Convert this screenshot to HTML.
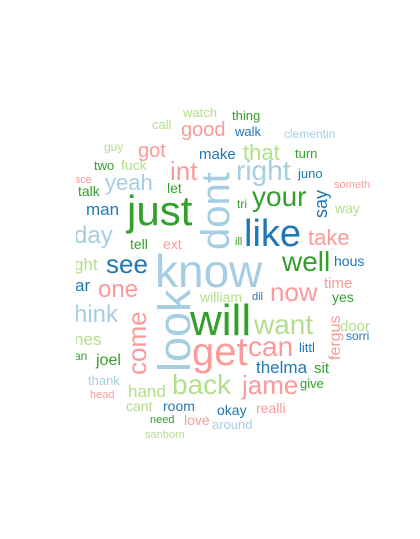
<!DOCTYPE html>
<html><head><meta charset="utf-8"><style>
html,body{margin:0;padding:0;background:#fff;}
svg{display:block;}
text{font-family:"Liberation Sans",Arial,sans-serif;}
</style></head><body>
<svg width="420" height="539">
<defs><clipPath id="clip"><rect x="76" y="0" width="344" height="539"/></clipPath></defs>
<g id="words" clip-path="url(#clip)"></g>
</svg>
<script>
const words = ["watch","thing","call","good","walk","clementin","guy","got","make","that","turn","two","fuck","int","right","juno","ace","someth","yeah","talk","let","your","way","man","just","like","day","take","tri","ill","tell","ext","ght","see","know","well","hous","ar","one","now","time","william","dil","yes","will","want","door","sorri","hink","nes","get","can","littl","an","joel","thelma","sit","thank","back","jame","give","hand","head","cant","room","okay","realli","need","love","around","sanborn","dont","say","look","come","fergus"];
const sizes = [13,13,13,20,13,12,12,20,15,22,13,13,14,26,28,13,11,11,22,14,14,28,14,17,42,38,24,22,12,11,14,14,17,26,46,28,14,17,24,26,15,14,11,14,44,28,15,12,24,17,40,28,13,12,16,17,15,13,28,26,13,17,11,14,14,14,14,11,14,13,11,40,18,45,26,16];
const colorIdx = [1,0,1,4,3,2,1,4,3,1,0,0,1,4,2,3,4,4,2,0,0,0,1,3,0,3,2,4,0,0,0,4,1,3,2,0,3,3,4,4,4,1,3,0,0,1,1,3,2,1,4,4,3,0,0,3,0,2,1,4,0,1,4,1,3,3,4,0,4,2,1,2,3,2,4,4];
const posX = [183,232,152,181,235,284,104,138,199,243,295,94,121,170,236,298,74,334,105,78,167,252,335,86,127,244,74,308,237,235,130,163,74,106,155,282,334,75,98,270,324,200,252,332,190,254,340,346,74,74,192,248,299,74,96,256,314,88,172,242,300,128,90,126,163,217,256,150,184,212,145,229,327,190,146,340];
const posY = [117,120,129,136,136,138,151,157,159,160,158,170,170,180,180,178,183,188,190,196,193,206,213,215,225,246,243,245,208,245,249,249,270,273,287,271,266,291,297,301,288,302,300,302,335,334,331,340,322,345,365,356,352,360,365,373,373,385,394,394,388,397,398,411,411,415,413,423,425,429,438,250,218,372,375,360];
const rotated = [0,0,0,0,0,0,0,0,0,0,0,0,0,0,0,0,0,0,0,0,0,0,0,0,0,0,0,0,0,0,0,0,0,0,0,0,0,0,0,0,0,0,0,0,0,0,0,0,0,0,0,0,0,0,0,0,0,0,0,0,0,0,0,0,0,0,0,0,0,0,0,1,1,1,1,1];
const palette = ["#33a02c","#b2df8a","#a6cee3","#1f78b4","#fb9a99"];
const g = document.getElementById('words');
const ns = "http://www.w3.org/2000/svg";
words.forEach((w,i)=>{
  const t = document.createElementNS(ns,'text');
  
  
  t.setAttribute('font-size', sizes[i]);
  t.setAttribute('fill', palette[colorIdx[i]]);
  if (rotated[i]) {
    t.setAttribute('transform', 'translate(' + posX[i] + ',' + posY[i] + ') rotate(-90)');
  } else {
    t.setAttribute('x', posX[i]);
    t.setAttribute('y', posY[i]);
  }
  t.textContent = w;
  g.appendChild(t);
});
</script>
</body></html>
